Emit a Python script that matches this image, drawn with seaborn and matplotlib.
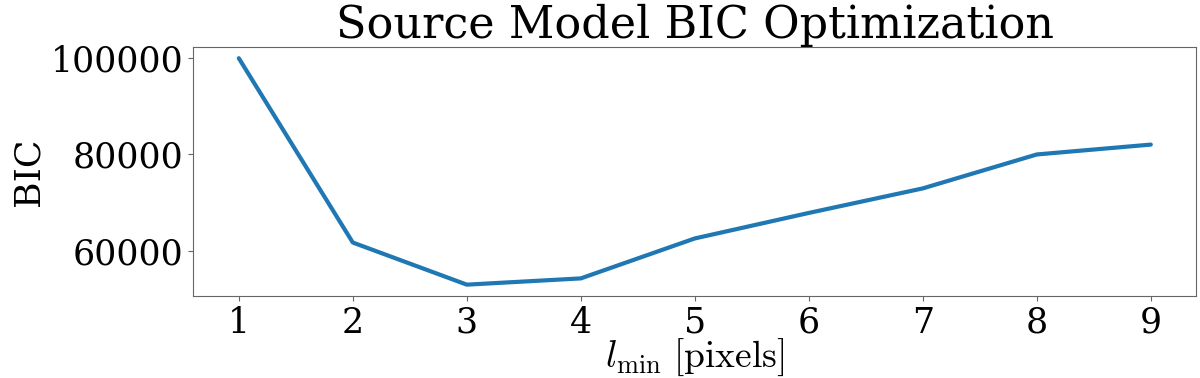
import matplotlib
matplotlib.use("Agg")
import matplotlib.pyplot as plt
import seaborn as sns
import pandas as pd

# data
l_min = [1, 2, 3, 4, 5, 6, 7, 8, 9]
bic = [100000, 61700, 52950, 54250, 62550, 67850, 72950, 80000, 82050]

df = pd.DataFrame({"l_min": l_min, "BIC": bic})

sns.set_style("ticks")
plt.rcParams["font.family"] = ["DejaVu Serif"]
plt.rcParams["mathtext.fontset"] = "cm"
plt.rcParams["text.color"] = "black"
plt.rcParams["axes.labelcolor"] = "black"
plt.rcParams["axes.edgecolor"] = "0.4"
plt.rcParams["xtick.color"] = "0.4"
plt.rcParams["ytick.color"] = "0.4"
plt.rcParams["xtick.labelcolor"] = "black"
plt.rcParams["ytick.labelcolor"] = "black"

fig, ax = plt.subplots(figsize=(12, 3.78), dpi=100)
sns.lineplot(data=df, x="l_min", y="BIC", color="#1f77b4", linewidth=3, ax=ax)

ax.set_title("Source Model BIC Optimization", fontsize=32, color="black")
ax.set_xlabel(r"$l_{\rm min}\ [\rm pixels]$", fontsize=27, labelpad=-2)
ax.set_ylabel("BIC", fontsize=26)
ax.set_xticks(l_min)
ax.set_yticks([60000, 80000, 100000])
ax.tick_params(labelsize=25)

plt.subplots_adjust(left=0.161, right=0.997, top=0.876, bottom=0.217)
plt.savefig("out.png", dpi=100)
